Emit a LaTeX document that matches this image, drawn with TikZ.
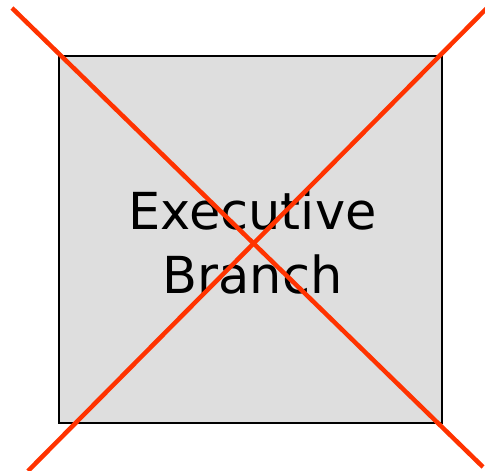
\documentclass[tikz,border=0pt]{standalone}
\usepackage{fontspec}
\setmainfont{DejaVu Sans}
\begin{document}
\begin{tikzpicture}[x=1pt,y=1pt,
  boxstyle/.style={draw=black,line width=1.5pt,fill=boxgray,minimum width=383pt,minimum height=367pt,inner sep=0pt},
  crossline/.style={draw=crossred,line width=4.5pt}]
\definecolor{boxgray}{HTML}{DEDEDE}
\definecolor{crossred}{HTML}{FF3300}
\useasboundingbox (0,0) rectangle (485,471);
\node[boxstyle] (box) at (250.5,231.5) {};
\node[font=\fontsize{51}{64}\selectfont,align=center] (label) at (252.5,229) {Executive\\Branch};
\coordinate (a1) at (12,463);
\coordinate (a2) at (483,4);
\coordinate (b1) at (487,463);
\coordinate (b2) at (28,0);
\draw[crossline] (a1) -- (a2);
\draw[crossline] (b1) -- (b2);
\end{tikzpicture}
\end{document}
